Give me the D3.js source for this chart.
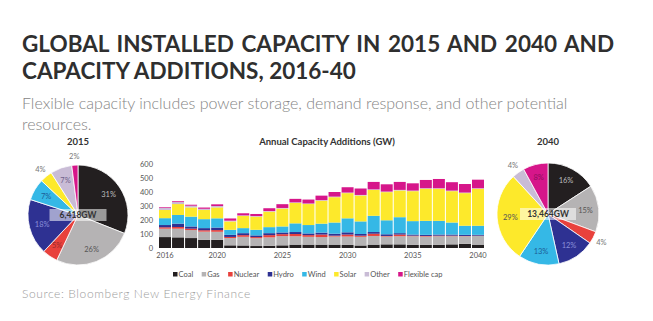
<!DOCTYPE html>
<html>
<head>
<meta charset="utf-8">
<script src="https://cdn.jsdelivr.net/npm/d3@7"></script>
<style>
  body { margin: 0; background: #fff; }
  svg { display: block; font-family: Lato, "Open Sans", sans-serif; }
</style>
</head>
<body>
<svg id="chart" width="653" height="321"></svg>
<script>
// Annual additions by technology, GW, 2016-2040
const years = d3.range(2016, 2041);
const coal     = [78,76,71,59,58,19,18,14,16,19,24,24,24,24,22,18,24,26,26,22,22,22,26,30,24];
const gas      = [60,62,57,58,58,52,62,56,60,66,60,56,54,58,60,62,62,56,58,62,60,62,58,54,62];
const nuclear  = [10,12,10,10,12,8,12,8,16,14,16,12,18,6,14,8,16,4,12,4,4,4,4,2,2];
const hydro    = [16,24,16,15,18,15,14,12,14,12,14,12,14,14,16,12,12,12,10,8,8,8,8,8,6];
const wind     = [49,62,70,64,66,36,36,40,43,43,62,60,64,80,100,90,116,100,114,96,100,98,86,65,65];
const solar    = [59,78,66,66,78,60,87,94,111,128,146,150,164,181,180,185,185,201,191,214,229,229,224,233,264];
const other    = [14,14,12,8,10,5,4,4,4,4,4,4,4,4,4,4,4,4,4,4,4,4,4,4,4];
const flexible = [5,6,7,9,12,16,15,15,20,27,25,28,32,33,38,46,53,52,57,52,59,66,60,61,61];

const seriesNames = ["Coal","Gas","Nuclear","Hydro","Wind","Solar","Other","Flexible cap"];
const seriesValues = [coal, gas, nuclear, hydro, wind, solar, other, flexible];

// installed capacity shares (%)
const share2015 = [31,26,5,18,7,4,7,2];
const share2040 = [16,15,4,12,13,29,4,8];
const total2015 = "6,418GW";
const total2040 = "13,464GW";

const yTicks = [0,100,200,300,400,500,600];
const xTicks = [2016,2020,2025,2030,2035,2040];

const colors = ["#231f20","#b5b3b4","#e8413c","#2e3192","#35b8e6","#fde92b","#c9bcd6","#d6168a"];
const labelColors = ["#bdbdbd","#555","#9a2a2a","#8a8fd8","#1d5d96","#555","#6f5f8a","#8c0f5c"];

const svg = d3.select("#chart");

// headings
svg.append("text").attr("x", 22).attr("y", 52)
  .attr("font-size", 22.5).attr("font-weight", 700).attr("fill", "#2f2f2f")
  .attr("word-spacing", 2.2)
  .text("GLOBAL INSTALLED CAPACITY IN 2015 AND 2040 AND");
svg.append("text").attr("x", 22).attr("y", 79)
  .attr("font-size", 22.5).attr("font-weight", 700).attr("fill", "#2f2f2f")
  .text("CAPACITY ADDITIONS, 2016-40");
svg.append("text").attr("x", 22).attr("y", 109)
  .attr("font-size", 16).attr("font-weight", 300).attr("fill", "#858585")
  .text("Flexible capacity includes power storage, demand response, and other potential");
svg.append("text").attr("x", 22).attr("y", 130)
  .attr("font-size", 16).attr("font-weight", 300).attr("fill", "#858585")
  .text("resources.");
svg.append("text").attr("x", 22).attr("y", 298)
  .attr("font-size", 12).attr("font-weight", 300).attr("letter-spacing", 0.6).attr("fill", "#9c9c9c")
  .text("Source:  Bloomberg New Energy Finance");

// ---- stacked bars ----
const rows = years.map((yr, i) => {
  const r = { year: yr };
  seriesNames.forEach((k, j) => r[k] = seriesValues[j][i]);
  return r;
});
const stacked = d3.stack().keys(seriesNames)(rows);

const x = d3.scaleBand().domain(years).range([159, 484]).paddingInner(0.08);
const y = d3.scaleLinear().domain([0, 600]).range([248, 164]);

svg.append("text").attr("x", 327).attr("y", 145).attr("text-anchor", "middle")
  .attr("font-size", 9.5).attr("font-weight", 700).attr("fill", "#333")
  .text("Annual Capacity Additions  (GW)");

svg.append("g").selectAll("g").data(stacked).join("g")
  .attr("fill", (d, i) => colors[i])
  .selectAll("rect").data(d => d).join("rect")
  .attr("x", d => x(d.data.year))
  .attr("width", x.bandwidth())
  .attr("y", d => y(d[1]))
  .attr("height", d => y(d[0]) - y(d[1]));

const yAxis = svg.append("g").attr("transform", "translate(156,0)")
  .call(d3.axisLeft(y).tickValues(yTicks).tickSize(0).tickPadding(3));
yAxis.select(".domain").remove();
yAxis.selectAll("text").attr("font-size", 7.5).attr("fill", "#555").attr("font-family", "Lato, sans-serif");

const xAxis = svg.append("g").attr("transform", "translate(0,249)")
  .call(d3.axisBottom(x).tickValues(xTicks).tickSize(0).tickPadding(4));
xAxis.select(".domain").remove();
xAxis.selectAll("text").attr("font-size", 7.5).attr("fill", "#555").attr("font-family", "Lato, sans-serif");

// legend
const legend = svg.append("g").attr("transform", "translate(173,277)");
let lx = 0;
seriesNames.forEach((name, i) => {
  const g = legend.append("g").attr("transform", `translate(${lx},0)`);
  g.append("rect").attr("x", 0).attr("y", -5).attr("width", 4.5).attr("height", 4.5).attr("fill", colors[i]);
  const t = g.append("text").attr("x", 5.5).attr("y", 0)
    .attr("font-size", 7.5).attr("fill", "#555").text(name);
  lx += 5.5 + t.node().getComputedTextLength() + 8.5;
});

// ---- pies ----
function drawPie(cx, cy, r, title, shares, total, boxW, outside) {
  const g = svg.append("g").attr("transform", `translate(${cx},${cy})`);
  svg.append("text").attr("x", cx).attr("y", 145).attr("text-anchor", "middle")
    .attr("font-size", 9.5).attr("font-weight", 700).attr("fill", "#333").text(title);

  const arcs = d3.pie().sort(null).value(d => d)(shares);
  const arc = d3.arc().innerRadius(0).outerRadius(r);
  const inner = d3.arc().innerRadius(r * 0.74).outerRadius(r * 0.74);
  const outer = d3.arc().innerRadius(r * 1.18).outerRadius(r * 1.18);

  g.selectAll("path").data(arcs).join("path")
    .attr("d", arc)
    .attr("fill", (d, i) => colors[i])
    .attr("stroke", "#fff").attr("stroke-width", 0.8);

  // small slices get their label outside the rim
  g.selectAll("text.pct").data(arcs).join("text")
    .attr("class", "pct")
    .attr("transform", d => `translate(${(outside.includes(d.index) ? outer : inner).centroid(d)})`)
    .attr("text-anchor", "middle").attr("dy", "0.35em")
    .attr("font-size", 7.5)
    .attr("fill", d => outside.includes(d.index) ? "#777" : labelColors[d.index])
    .text(d => d.data + "%");

  g.append("rect").attr("x", -boxW / 2).attr("y", -6).attr("width", boxW).attr("height", 12)
    .attr("fill", "#fff").attr("opacity", 0.55);
  g.append("text").attr("x", 0).attr("y", 0).attr("dy", "0.35em").attr("text-anchor", "middle")
    .attr("font-size", 8.5).attr("font-weight", 700).attr("fill", "#333").text(total);
}

drawPie(78, 215, 50, "2015", share2015, total2015, 57, [5, 7]);
drawPie(548, 214, 51, "2040", share2040, total2040, 56, [2, 6]);
</script>
</body>
</html>
